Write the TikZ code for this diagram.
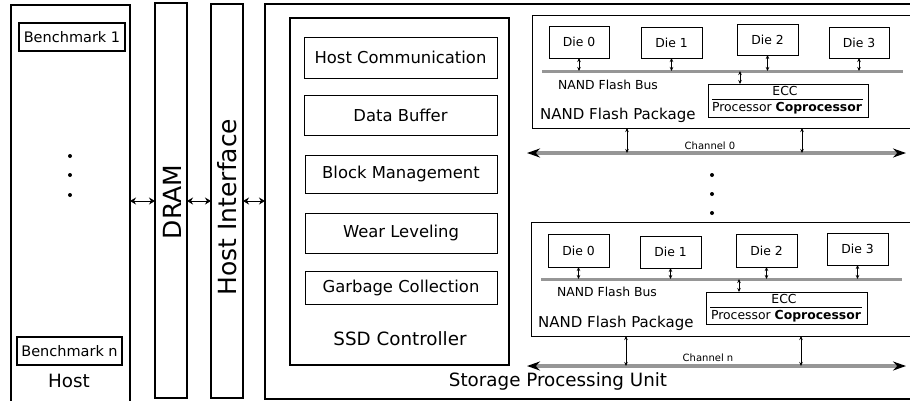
\documentclass[tikz,border=0pt]{standalone}
\usepackage{fontspec}
\setmainfont{DejaVu Sans}
\usetikzlibrary{arrows.meta,calc}

\definecolor{busgray}{RGB}{150,150,150}

\tikzset{
  blk/.style={draw, anchor=north west, inner sep=0pt, outer sep=0pt, line width=1pt},
  thickblk/.style={blk, line width=1.6pt},
  fbig/.style={font=\fontsize{25}{28}\selectfont},
  flabel/.style={font=\fontsize{18.3}{21}\selectfont},
  fmod/.style={font=\fontsize{16.4}{19}\selectfont},
  fbench/.style={font=\fontsize{14.5}{17}\selectfont},
  fpkg/.style={font=\fontsize{15}{18}\selectfont},
  fdie/.style={font=\fontsize{12.4}{15}\selectfont},
  fchan/.style={font=\fontsize{10}{12}\selectfont},
  dbl/.style={{Stealth[length=4pt,width=3.5pt]}-{Stealth[length=4pt,width=3.5pt]}, line width=0.8pt},
  link/.style={{Stealth[length=6pt,width=7pt]}-{Stealth[length=6pt,width=7pt]}, line width=1pt},
  bus/.style={draw=busgray, line width=3pt},
  chan/.style={draw=busgray, line width=4pt,
    {Stealth[black,length=13pt,width=9pt]}-{Stealth[black,length=13pt,width=9pt]}},
  dot/.style={circle, fill=black, inner sep=0pt, minimum size=4pt},
}

\begin{document}
\begin{tikzpicture}[x=1pt,y=-1pt]
\useasboundingbox[fill=white] (0,0) rectangle (910,400);

% ---------------- Host ----------------
\node[blk, line width=1.2pt, minimum width=119pt, minimum height=402pt] (host) at (11,5) {};
\node[thickblk, fbench, minimum width=106pt, minimum height=28pt] (bench1) at (19,23) {Benchmark 1};
\node[thickblk, fbench, minimum width=105pt, minimum height=28pt] (benchn) at (17,337) {Benchmark n};
\node[flabel] (hostlbl) at (69,381) {Host};
\node[dot] (hd1) at (70,156) {};
\node[dot] (hd2) at (70,175) {};
\node[dot] (hd3) at (70,195) {};

% ---------------- DRAM / Host Interface ----------------
\node[blk, line width=1.2pt, minimum width=32pt, minimum height=395pt] (dram) at (155,3) {};
\node[fbig, rotate=90] (dramlbl) at (172,202) {DRAM};
\node[blk, line width=1.2pt, minimum width=32pt, minimum height=394pt] (hif) at (211,4) {};
\node[fbig, rotate=90] (hiflbl) at (227,207) {Host Interface};

% ---------------- Storage Processing Unit ----------------
\node[blk, line width=1.5pt, minimum width=660pt, minimum height=395pt] (spu) at (265,4) {};
\node[flabel] (spulbl) at (558,381) {Storage Processing Unit};

\draw[link] (host.east |- 0,201) -- (dram.west |- 0,201);
\draw[link] (dram.east |- 0,201) -- (hif.west |- 0,201);
\draw[link] (hif.east |- 0,201) -- (spu.west |- 0,201);

% ---------------- SSD Controller ----------------
\node[blk, line width=2pt, minimum width=219pt, minimum height=347pt] (ssd) at (290,18) {};
\node[blk, fmod, minimum width=193pt, minimum height=41pt] (hc) at (304,37) {Host Communication};
\node[blk, fmod, minimum width=193pt, minimum height=40pt] (db) at (304,95) {Data Buffer};
\node[blk, fmod, minimum width=192pt, minimum height=38pt] (bm) at (305,155) {Block Management};
\node[blk, fmod, minimum width=192pt, minimum height=40pt] (wl) at (305,213) {Wear Leveling};
\node[blk, fmod, minimum width=192pt, minimum height=33pt] (gc) at (305,271) {Garbage Collection};
\node[flabel] (ssdlbl) at (400,339) {SSD Controller};

% ---------------- NAND Flash Package (channel 0) ----------------
\node[blk, minimum width=400pt, minimum height=113pt] (pkga) at (532,15) {};
\node[blk, fdie, minimum width=60pt, minimum height=32pt] (a0) at (549,26) {Die 0};
\node[blk, fdie, minimum width=61pt, minimum height=31pt] (a1) at (641,27) {Die 1};
\node[blk, fdie, minimum width=61pt, minimum height=31pt] (a2) at (737,24) {Die 2};
\node[blk, fdie, minimum width=60pt, minimum height=31pt] (a3) at (829,27) {Die 3};
\coordinate (busal) at (542,71);
\coordinate (busar) at (903,71);
\draw[bus] (busal) -- (busar);
\foreach \d in {a0,a1,a2,a3}
  \draw[dbl] (\d.south) -- (\d.south |- busal);
\node[blk, minimum width=160pt, minimum height=33pt] (ecca) at (708,84) {};
\draw[line width=0.8pt] ($(ecca.north west)+(4,15)$) -- ($(ecca.north east)+(-5,15)$);
\node[fdie] (eccalbl) at (785,91) {ECC};
\node[fdie] (procalbl) at (787,108) {Processor \textbf{Coprocessor}};
\draw[dbl] (ecca.north -| 740,0) -- (busal -| 740,0);
\node[fdie] (busalbl) at (608,85) {NAND Flash Bus};
\node[fpkg, anchor=west, inner sep=0pt] (pkgalbl) at (540,115) {NAND Flash Package};

\coordinate (chal) at (527,153);
\coordinate (char) at (906,153);
\draw[chan] (chal) -- (char);
\node[fchan] (chalbl) at (710,146) {Channel 0};
\draw[dbl] (pkga.south -| 627,0) -- (chal -| 627,0);
\draw[dbl] (pkga.south -| 802,0) -- (chal -| 802,0);

% dots between channels
\node[dot] (cd1) at (712,175) {};
\node[dot] (cd2) at (712,194) {};
\node[dot] (cd3) at (712,213) {};

% ---------------- NAND Flash Package (channel n) ----------------
\node[blk, minimum width=400pt, minimum height=114pt] (pkgb) at (531,222) {};
\node[blk, fdie, minimum width=61pt, minimum height=33pt] (b0) at (548,234) {Die 0};
\node[blk, fdie, minimum width=61pt, minimum height=32pt] (b1) at (640,236) {Die 1};
\node[blk, fdie, minimum width=61pt, minimum height=33pt] (b2) at (736,234) {Die 2};
\node[blk, fdie, minimum width=61pt, minimum height=32pt] (b3) at (827,233) {Die 3};
\coordinate (busbl) at (541,279);
\coordinate (busbr) at (902,279);
\draw[bus] (busbl) -- (busbr);
\foreach \d in {b0,b1,b2,b3}
  \draw[dbl] (\d.south) -- (\d.south |- busbl);
\node[blk, minimum width=161pt, minimum height=32pt] (eccb) at (706,292) {};
\draw[line width=0.8pt] ($(eccb.north west)+(4,15)$) -- ($(eccb.north east)+(-5,15)$);
\node[fdie] (eccblbl) at (784,299) {ECC};
\node[fdie] (procblbl) at (786,316) {Processor \textbf{Coprocessor}};
\draw[dbl] (eccb.north -| 739,0) -- (busbl -| 739,0);
\node[fdie] (busblbl) at (607,292) {NAND Flash Bus};
\node[fpkg, anchor=west, inner sep=0pt] (pkgblbl) at (538,323) {NAND Flash Package};

\coordinate (chbl) at (527,366);
\coordinate (chbr) at (906,366);
\draw[chan] (chbl) -- (chbr);
\node[fchan] (chblbl) at (708,358) {Channel n};
\draw[dbl] (pkgb.south -| 626,0) -- (chbl -| 626,0);
\draw[dbl] (pkgb.south -| 801,0) -- (chbl -| 801,0);
\end{tikzpicture}
\end{document}
